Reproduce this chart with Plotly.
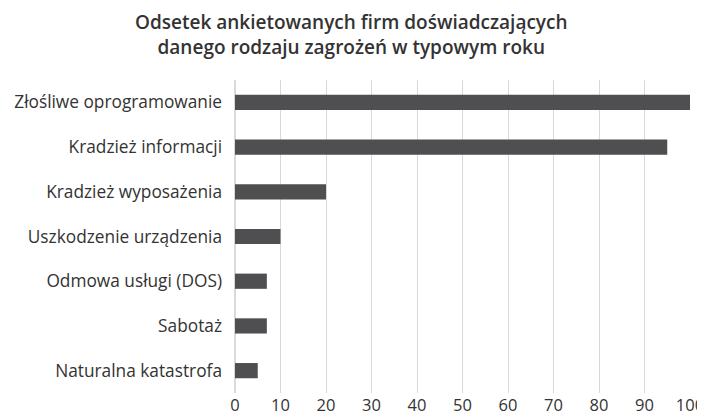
import plotly.graph_objects as go

categories = ["Złośliwe oprogramowanie", "Kradzież informacji", "Kradzież wyposażenia",
              "Uszkodzenie urządzenia", "Odmowa usługi (DOS)", "Sabotaż", "Naturalna katastrofa"]
values = [100, 95, 20, 10, 7, 7, 5]
tick_vals = [0, 10, 20, 30, 40, 50, 60, 70, 80, 90, 100]
title_text = "Odsetek ankietowanych firm doświadczających<br>danego rodzaju zagrożeń w typowym roku"

font_family = "Open Sans, Lato, sans-serif"
text_color = "#333333"

fig = go.Figure(go.Bar(
    x=values, y=categories, orientation="h",
    marker=dict(color="#4f4f51", line=dict(width=0)),
    width=0.34,
))

fig.add_annotation(
    text=title_text, xref="paper", yref="paper", x=0.257, y=1.232,
    xanchor="center", yanchor="top", showarrow=False, align="center",
    font=dict(family=font_family, size=19, color=text_color, weight=600),
)

fig.update_layout(
    width=697, height=411,
    margin=dict(l=227, r=15, t=72, b=26),
    paper_bgcolor="white", plot_bgcolor="white",
    font=dict(family=font_family, size=17, color=text_color),
    showlegend=False,
)
fig.update_xaxes(range=[0, 100], tickvals=tick_vals, showgrid=True, gridcolor="#d9d9d9",
                 gridwidth=1, zeroline=True, zerolinecolor="#d9d9d9", showline=False,
                 ticks="", automargin=False,
                 tickfont=dict(size=16.5, color=text_color), fixedrange=True)
fig.update_yaxes(categoryorder="array", categoryarray=categories[::-1], showgrid=False,
                 showline=False, ticks="", ticklabelstandoff=12, automargin=False,
                 tickfont=dict(size=17.3, color=text_color), fixedrange=True)

fig.write_html("out.html")
